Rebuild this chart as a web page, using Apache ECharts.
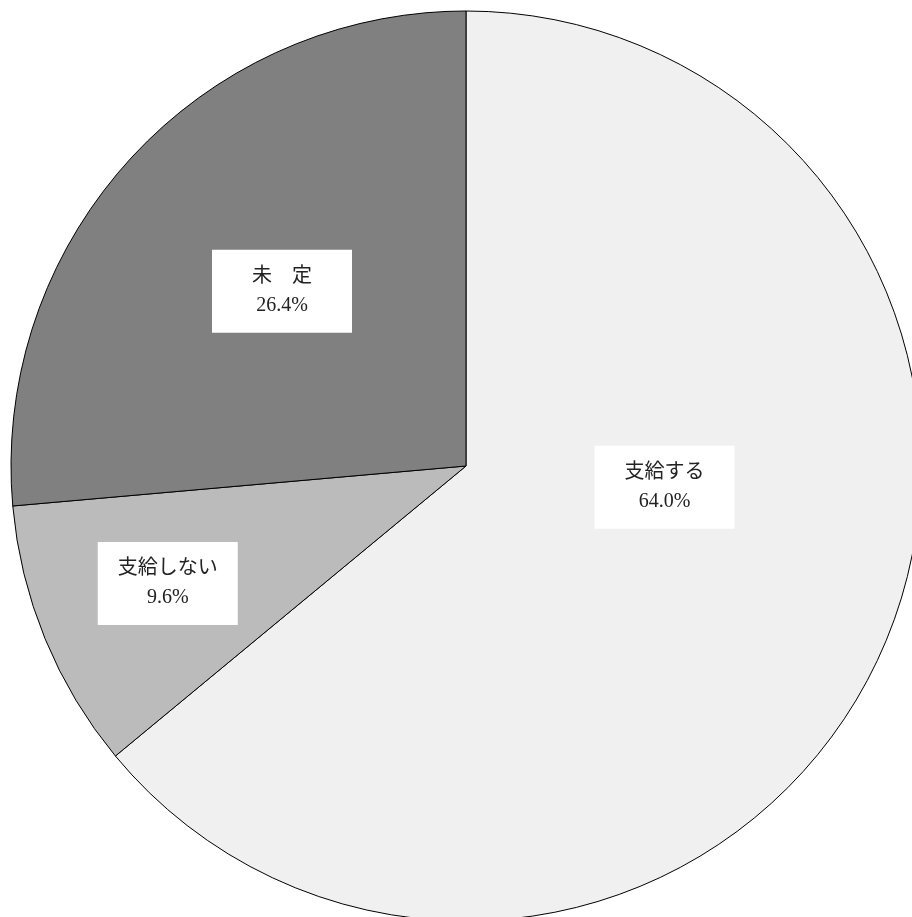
<!DOCTYPE html>
<html><head><meta charset="utf-8">
<script src="https://cdn.jsdelivr.net/npm/echarts@6/dist/echarts.min.js"></script>
<style>html,body{margin:0;padding:0;background:#fff}#c{width:912px;height:917px}</style>
</head><body><div id="c"></div>
<script>
const categories = ['支給する', '支給しない', '未　定'];
const values = [64.0, 9.6, 26.4];

const sliceColors = ['#f0f0f0', '#bbbbbb', '#808080'];
const labelOffsets = [[-10, -77], [-85, 30], [-14, -19]];

const chart = echarts.init(document.getElementById('c'), null, {renderer: 'canvas'});
chart.setOption({
  animation: false,
  backgroundColor: '#ffffff',
  series: [{
    type: 'pie',
    center: [466, 466],
    radius: 455,
    startAngle: 90,
    clockwise: true,
    avoidLabelOverlap: false,
    emphasis: {disabled: true},
    itemStyle: {borderColor: '#000000', borderWidth: 1},
    label: {
      show: true,
      position: 'inside',
      fontFamily: '"Liberation Serif", "DejaVu Serif", "Noto Sans CJK JP", serif',
      fontSize: 20,
      lineHeight: 29,
      color: '#222222',
      backgroundColor: '#ffffff',
      width: 140,
      align: 'center',
      padding: [12, 0, 13, 0],
      formatter: p => p.name + '\n' + p.value.toFixed(1) + '%'
    },
    labelLine: {show: false},
    data: categories.map((n, i) => ({
      name: n,
      value: values[i],
      itemStyle: {color: sliceColors[i]},
      label: {offset: labelOffsets[i]}
    }))
  }]
});
</script></body></html>
